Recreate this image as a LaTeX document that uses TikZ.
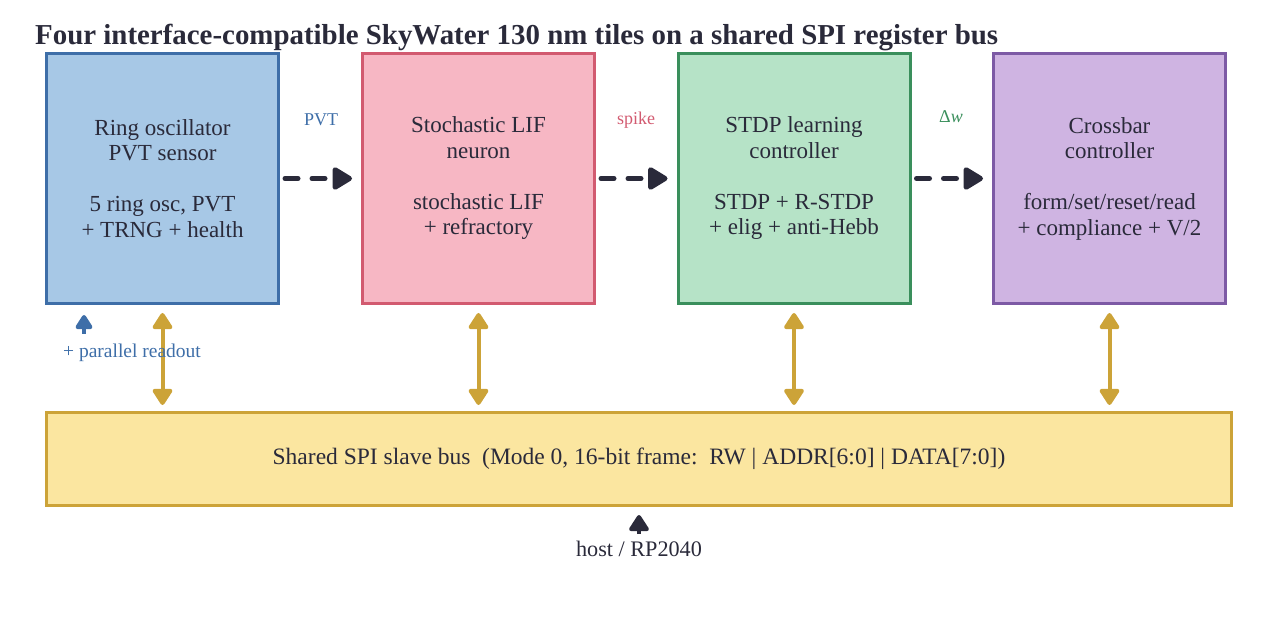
\documentclass[tikz,border=0pt]{standalone}
\usepackage{fontspec}
\setmainfont{Liberation Serif}
\usetikzlibrary{arrows.meta}
\definecolor{txt}{RGB}{42,42,58}
\definecolor{bAf}{RGB}{167,200,230}\definecolor{bAe}{RGB}{62,110,168}
\definecolor{bBf}{RGB}{247,183,196}\definecolor{bBe}{RGB}{210,90,112}
\definecolor{bCf}{RGB}{182,227,199}\definecolor{bCe}{RGB}{58,143,92}
\definecolor{bDf}{RGB}{207,180,226}\definecolor{bDe}{RGB}{125,90,165}
\definecolor{busf}{RGB}{251,230,160}\definecolor{buse}{RGB}{204,163,56}
\tikzset{
  tile/.style={draw, line width=3pt, minimum width=232pt, minimum height=250pt, inner sep=0pt, align=center, text=txt, font=\fontsize{23}{25.5}\selectfont},
  flow/.style={line width=5pt, txt, dash pattern=on 13pt off 14pt, line cap=round, -{Triangle[length=22pt,width=25pt,round]}},
  busarr/.style={line width=4pt, buse, {Triangle[length=18pt,width=22pt,round]}-{Triangle[length=18pt,width=22pt,round]}},
  lbl/.style={font=\fontsize{18}{20}\selectfont, inner sep=0pt}
}
\begin{document}
\begin{tikzpicture}[x=1pt,y=-1pt]
\useasboundingbox (0,0) rectangle (1279,617);
\node[anchor=base west, font=\bfseries\fontsize{28.9}{31}\selectfont, text=txt, inner sep=0pt] (title) at (35,45) {Four interface-compatible SkyWater 130 nm tiles on a shared SPI register bus};
\node[tile, fill=bAf, draw=bAe] (b1) at (162.5,178.5) {Ring oscillator\\PVT sensor\\[25.5pt]5 ring osc, PVT\\+ TRNG + health};
\node[tile, fill=bBf, draw=bBe] (b2) at (478.5,178.5) {Stochastic LIF\\neuron\\[25.5pt]stochastic LIF\\+ refractory};
\node[tile, fill=bCf, draw=bCe] (b3) at (794,178.5) {STDP learning\\controller\\[25.5pt]STDP + R-STDP\\+ elig + anti-Hebb};
\node[tile, fill=bDf, draw=bDe] (b4) at (1109.5,178.5) {Crossbar\\controller\\[25.5pt]form/set/reset/read\\+ compliance + V/2};
\node[draw=buse, fill=busf, line width=3pt, minimum width=1185pt, minimum height=93pt, inner sep=0pt, text=txt, font=\fontsize{23.5}{26}\selectfont] (bus) at (639,459) {Shared SPI slave bus\ \ (Mode 0, 16-bit frame:\ \ RW | ADDR[6:0] | DATA[7:0])};
\draw[flow, shorten <=5pt, shorten >=9pt] (b1.east) -- (b2.west);
\draw[flow, shorten <=5pt, shorten >=9pt] (b2.east) -- (b3.west);
\draw[flow, shorten <=5pt, shorten >=9pt] (b3.east) -- (b4.west);
\node[lbl, text=bAe] (lpvt) at (321,120) {PVT};
\node[lbl, text=bBe] (lspike) at (636,120) {spike};
\node[lbl, text=bCe] (ldw) at (951,117) {Δ\textit{w}};
\foreach \b in {b1,b2,b3,b4}{
  \draw[busarr, shorten <=8pt, shorten >=6pt] (\b.south) -- (\b.south |- bus.north);
}
\node[lbl, text=bAe, font=\fontsize{19.5}{21}\selectfont] (lpar) at (132,353) {+ parallel readout};
\coordinate (pr) at (84,334);
\draw[line width=4pt, bAe, -{Triangle[length=16pt,width=19pt,round]}, shorten >=10pt] (pr) -- (pr |- b1.south);
\node[text=txt, font=\fontsize{22.2}{24}\selectfont, inner sep=0pt] (host) at (639,549) {host / RP2040};
\coordinate (hc) at (639,534);
\draw[line width=4pt, txt, -{Triangle[length=18pt,width=22pt,round]}, shorten >=8pt] (hc) -- (hc |- bus.south);
\end{tikzpicture}
\end{document}
